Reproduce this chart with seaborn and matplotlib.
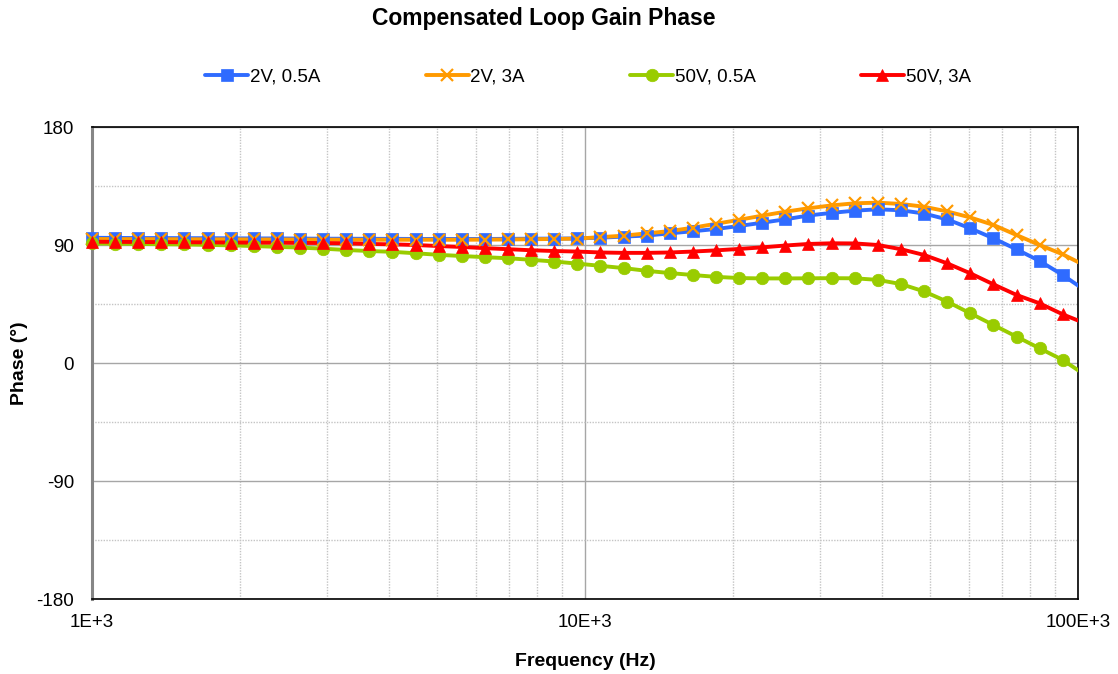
import numpy as np
import pandas as pd
import matplotlib
matplotlib.use("Agg")
import matplotlib.pyplot as plt
import matplotlib.ticker as mticker
from matplotlib.lines import Line2D
import seaborn as sns

sns.set_theme(style="white")
plt.rcParams['font.family'] = ['Liberation Sans', 'DejaVu Sans']
plt.rcParams['axes.unicode_minus'] = False
plt.rcParams['text.color'] = 'black'
plt.rcParams['axes.labelcolor'] = 'black'

# frequency points (Hz); the last one lies just past 100 kHz
freq = [1000, 1114, 1241, 1383, 1540, 1716, 1911, 2129, 2372, 2642,
        2943, 3279, 3652, 4069, 4532, 5049, 5624, 6266, 6980, 7775,
        8662, 9649, 10749, 11974, 13339, 14860, 16554, 18441, 20543, 22885,
        25494, 28400, 31638, 35245, 39263, 43739, 48725, 54280, 60468, 67361,
        75041, 83595, 93125, 103742]

phase_2v_05a = [95.5, 95.4, 95.3, 95.3, 95.2, 95.2, 95.1, 95.0, 95.0, 94.9,
                94.8, 94.8, 94.7, 94.7, 94.6, 94.6, 94.6, 94.6, 94.7, 94.8,
                94.9, 95.0, 95.6, 96.4, 97.2, 98.9, 100.5, 102.2, 104.5, 107.0,
                109.6, 112.5, 114.5, 116.2, 117.2, 116.5, 114.0, 109.5, 102.7, 95.1,
                86.7, 77.8, 67.1, 55.0]

phase_2v_3a = [94.6, 94.5, 94.5, 94.4, 94.4, 94.3, 94.3, 94.2, 94.2, 94.1,
               94.1, 94.0, 94.0, 94.0, 94.0, 94.0, 94.0, 94.1, 94.2, 94.4,
               94.6, 94.9, 96.0, 97.1, 98.9, 100.6, 103.2, 106.2, 109.2, 112.4,
               115.4, 118.0, 120.2, 121.8, 122.3, 121.3, 119.2, 115.6, 111.0, 105.3,
               97.6, 90.0, 82.9, 74.0]

phase_50v_05a = [91.2, 91.0, 90.8, 90.6, 90.4, 90.1, 89.7, 89.2, 88.6, 88.0,
                 87.2, 86.2, 85.4, 84.8, 83.7, 82.5, 81.6, 80.7, 79.9, 78.7,
                 77.4, 75.8, 74.1, 72.4, 70.3, 68.6, 67.1, 65.7, 64.8, 64.5,
                 64.5, 64.6, 64.7, 64.6, 63.4, 60.2, 54.6, 46.8, 37.9, 29.0,
                 20.1, 11.2, 2.3, -9.5]

phase_50v_3a = [92.5, 92.4, 92.3, 92.2, 92.1, 92.0, 91.9, 91.8, 91.7, 91.6,
                91.5, 91.3, 90.8, 90.5, 90.0, 89.2, 88.5, 87.6, 86.8, 86.0,
                85.4, 85.0, 84.3, 84.0, 84.0, 84.3, 85.0, 85.9, 87.0, 88.2,
                89.6, 90.8, 91.3, 91.2, 90.0, 86.8, 82.4, 76.0, 68.4, 60.0,
                51.9, 45.5, 37.1, 30.0]

series_names = ["2V, 0.5A", "2V, 3A", "50V, 0.5A", "50V, 3A"]
series_values = [phase_2v_05a, phase_2v_3a, phase_50v_05a, phase_50v_3a]
colors = ["#2F6BFF", "#FF9A00", "#99CC00", "#FF0000"]
markers = ["s", "x", "o", "^"]
marker_sizes = [8, 9, 9, 9]

x_ticks = [1e3, 1e4, 1e5]
x_tick_labels = ["1E+3", "10E+3", "100E+3"]
y_ticks = [-180, -90, 0, 90, 180]

fig = plt.figure(figsize=(11.18, 6.74), dpi=100)
ax = fig.add_axes([92 / 1118, 1 - 599 / 674, (1078 - 92) / 1118, (599 - 127) / 674])

handles = []
for name, vals, col, mk, ms in zip(series_names, series_values, colors, markers, marker_sizes):
    df = pd.DataFrame({"freq": freq, "phase": vals})
    sns.lineplot(data=df, x="freq", y="phase", color=col, linewidth=2.8, ax=ax,
                 legend=False, zorder=3)
    # markers for points inside the plotted range, not clipped at the edge
    inside = df[df["freq"] <= 1e5]
    ax.plot(inside["freq"], inside["phase"], linestyle="none", marker=mk, markersize=ms,
            color=col, markeredgecolor=col, markeredgewidth=1.6 if mk == "x" else 0.5,
            clip_on=False, zorder=4)
    handles.append(Line2D([0], [0], color=col, linewidth=2.8, marker=mk, markersize=ms,
                          markeredgecolor=col, markeredgewidth=1.6 if mk == "x" else 0.5))

ax.set_xscale("log")
ax.set_xlim(1e3, 1e5)
ax.set_ylim(-180, 180)

ax.xaxis.set_major_locator(mticker.FixedLocator(x_ticks))
ax.xaxis.set_major_formatter(mticker.FixedFormatter(x_tick_labels))
ax.xaxis.set_minor_locator(mticker.LogLocator(base=10, subs=np.arange(2, 10)))
ax.xaxis.set_minor_formatter(mticker.NullFormatter())
ax.yaxis.set_major_locator(mticker.FixedLocator(y_ticks))
ax.yaxis.set_minor_locator(mticker.MultipleLocator(45))

ax.grid(which="major", color="#A6A6A6", linewidth=1.0, linestyle="-")
ax.grid(which="minor", color="#C4C4C4", linewidth=1.0, linestyle=(0, (1, 1)))
ax.tick_params(which="both", length=0)
ax.tick_params(axis="x", pad=11, labelsize=13.5, colors="black")
ax.tick_params(axis="y", pad=13, labelsize=13.5, colors="black")

for side in ["top", "right", "bottom"]:
    ax.spines[side].set_color("black")
    ax.spines[side].set_linewidth(1.2)
ax.spines["left"].set_color("#868686")
ax.spines["left"].set_linewidth(2.2)

ax.set_xlabel("Frequency (Hz)", fontsize=14, fontweight="bold", color="black")
ax.xaxis.set_label_coords(0.5, -(661 - 599) / 472)
ax.xaxis.label.set_va("center")
ax.set_ylabel("Phase (°)", fontsize=14, fontweight="bold", color="black")
ax.yaxis.set_label_coords(-(92 - 19) / 986, 0.5)
ax.yaxis.label.set_va("center")

fig.text(544 / 1118, 1 - 18 / 674, "Compensated Loop Gain Phase", ha="center", va="center",
         fontsize=16.5, fontweight="bold", color="black")

fig.legend(handles, series_names, loc="center", bbox_to_anchor=(588 / 1118, 1 - 77 / 674),
           ncol=4, frameon=False, fontsize=13.5, handlelength=2.3, handletextpad=0.1,
           columnspacing=5.6)

fig.savefig("out.png", dpi=100)
